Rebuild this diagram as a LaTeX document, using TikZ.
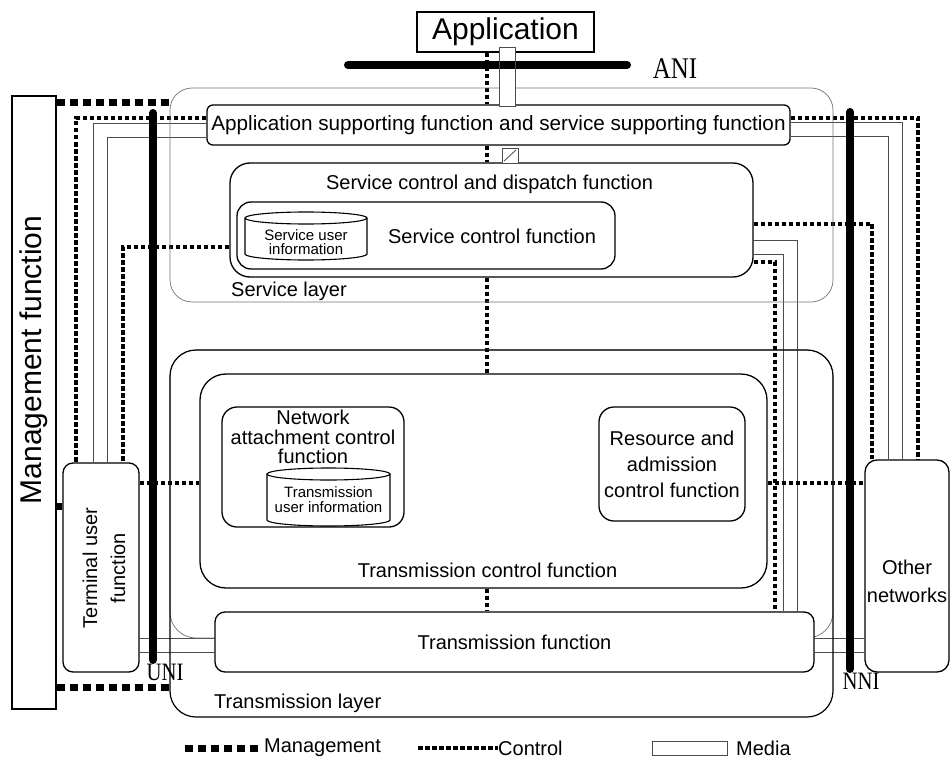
\documentclass[tikz,border=0pt]{standalone}
\usepackage{fontspec}
\setmainfont{Liberation Sans}
\newfontfamily\ifacefont{Liberation Serif}
\usetikzlibrary{calc}
\pgfdeclarelayer{bg}
\pgfsetlayers{bg,main}
\newcommand\dbcyl[5]{%
 \pgfmathsetmacro\cylrx{(#3-#1)/2}%
 \draw[line width=1.1pt,fill=white] (#1,#2+#5) -- (#1,#4-#5) arc[start angle=180,end angle=360,x radius=\cylrx pt,y radius=#5pt] -- (#3,#2+#5) arc[start angle=0,end angle=180,x radius=\cylrx pt,y radius=#5pt] -- cycle;
 \draw[line width=1.1pt] (#1,#2+#5) arc[start angle=180,end angle=360,x radius=\cylrx pt,y radius=#5pt];
}
\begin{document}
\begin{tikzpicture}[x=1pt,y=-1pt,
  fbox/.style={draw=black,line width=1.3pt,fill=white,rounded corners=#1,inner sep=0pt},
  fbox/.default=10pt,
  sqbox/.style={draw=black,line width=1.3pt,fill=white,inner sep=0pt},
  layerbox/.style={draw=black,line width=1.2pt,rounded corners=#1,inner sep=0pt},
  greybox/.style={draw=black!55,line width=0.7pt,rounded corners=#1,inner sep=0pt},
  ctl/.style={line width=3.8pt,dash pattern=on 4.5pt off 2.5pt},
  mgt/.style={line width=7pt,dash pattern=on 8pt off 5pt},
  media/.style={draw=black!70,line width=1pt,double=white,double distance=13pt},
  mediabox/.style={draw=black!70,line width=1pt},
  iface/.style={line width=8pt,line cap=round},
  t20/.style={font=\fontsize{20}{22}\selectfont},
  lbl/.style={inner sep=0pt},
]
\useasboundingbox (0,0) rectangle (950,765);

% layer boxes
\node[greybox=22pt,minimum width=663pt,minimum height=214pt] (svl) at (501.5,195) {};
\node[lbl,t20,anchor=west] (svlt) at (231,291) {Service layer};
\node[greybox=26pt,minimum width=663pt,minimum height=288pt] (gb) at (501.5,494) {};
\node[layerbox=26pt,minimum width=663pt,minimum height=367pt] (tl) at (501.5,533.5) {};
\node[lbl,t20,anchor=west] (tlt) at (214,703) {Transmission layer};

% functional boxes
\node[sqbox,minimum width=177pt,minimum height=40pt,font=\fontsize{30}{32}\selectfont] (app) at (505.5,32) {Application};
\node[fbox=6pt,minimum width=583pt,minimum height=40pt,font=\fontsize{20.7}{22}\selectfont] (aps) at (498.5,125) {Application supporting function and service supporting function};
\node[fbox=20pt,minimum width=523pt,minimum height=114pt] (scd) at (491.5,220) {};
\node[lbl,t20] (scdt) at (489.5,184) {Service control and dispatch function};
\node[fbox=14pt,minimum width=378pt,minimum height=67pt] (scf) at (426,235.5) {};
\node[lbl,t20] (scft) at (492,236) {Service control function};
\dbcyl{245}{212}{367}{260}{6}
\node[lbl,align=center,font=\fontsize{15}{13.5}\selectfont] (sui) at (306,242) {Service user\\information};

\node[fbox=26pt,minimum width=567pt,minimum height=214pt] (tcf) at (483.5,481) {};
\node[lbl,t20] (tcft) at (487.5,570) {Transmission control function};
\node[fbox=15pt,minimum width=182pt,minimum height=120pt] (nac) at (313,467) {};
\node[lbl,align=center,font=\fontsize{20}{19.5}\selectfont] (nact) at (313,437) {Network\\attachment control\\function};
\dbcyl{267}{468}{390}{526}{6}
\node[lbl,align=center,font=\fontsize{15}{15}\selectfont] (tui) at (328.5,500) {Transmission\\user information};
\node[fbox=15pt,minimum width=146pt,minimum height=114pt,align=center,font=\fontsize{20}{26}\selectfont] (rac) at (672,464) {Resource and\\admission\\control function};
\node[fbox=10pt,minimum width=599pt,minimum height=60pt,t20] (tf) at (514.5,642) {Transmission function};

\node[sqbox,minimum width=44pt,minimum height=613pt] (mgmt) at (34,402.5) {};
\node[lbl,rotate=90,font=\fontsize{30}{32}\selectfont] (mgmtt) at (34,360) {Management function};
\node[fbox=10pt,minimum width=76pt,minimum height=209pt] (tuf) at (101,567.5) {};
\node[lbl,rotate=90,align=center,font=\fontsize{20}{28}\selectfont] (tuft) at (104,568) {Terminal user\\function};
\node[fbox=12pt,minimum width=84pt,minimum height=212pt] (oth) at (907,566) {};
\node[lbl,align=center,font=\fontsize{20}{28}\selectfont] (otht) at (907,581) {Other\\networks};

% connectors
\begin{pgfonlayer}{bg}
% media
\draw[media] ([yshift=-6pt]aps.west) -| ([xshift=38pt]tuf.north west);
\draw[media] ([yshift=-5pt]aps.east) -| ([xshift=31.5pt]oth.north west);
\draw[media] ([yshift=-27pt]scd.east) -| ([xshift=276pt]tf.north);
\path ([yshift=-77.5pt]tuf.east) coordinate (m4);
\draw[media] (m4) -- (m4 -| tf.west);
\path ([yshift=-3.5pt]tf.east) coordinate (m5);
\draw[media] (m5) -- (m5 -| oth.west);
% control
\draw[ctl] ([yshift=7pt]aps.west) -| ([xshift=14pt]tuf.north west);
\draw[ctl] ([yshift=-27pt]scd.west) -| ([xshift=61pt]tuf.north west);
\path ([yshift=84.5pt]tuf.east) coordinate (c3);
\draw[ctl] (c3) -- (c3 -| tcf.west);
\path ([xshift=-18.5pt]app.south) coordinate (c4);
\draw[ctl] (c4) -- (c4 |- aps.north);
\path ([xshift=-11.5pt]aps.south) coordinate (c5);
\draw[ctl] (c5) -- (c5 |- scd.north);
\path ([xshift=-4.5pt]scd.south) coordinate (c6);
\draw[ctl] (c6) -- (c6 |- tcf.north);
\path ([xshift=3.5pt]tcf.south) coordinate (c7);
\draw[ctl] (c7) -- (c7 |- tf.north);
\path ([yshift=7pt]nac.east) coordinate (c8);
\draw[ctl] (c8) -- (c8 -| rac.west);
\draw[ctl] ([xshift=23pt]nac.south) -- ++(0,16) -| ([xshift=4pt]rac.south);
\draw[ctl] ([yshift=7pt]aps.east) -| ([xshift=54pt]oth.north west);
\draw[ctl] ([yshift=-4pt]scd.east) -| ([xshift=8pt]oth.north west);
\draw[ctl] ([yshift=-42pt]scd.east) -| ([xshift=260.5pt]tf.north);
\path ([yshift=-2pt]tcf.east) coordinate (c13);
\draw[ctl] (c13) -- (c13 -| oth.west);
% management
\path ([yshift=299.5pt]mgmt.east) coordinate (g1);
\draw[mgt] (g1) -- (g1 -| svl.west);
\path ([yshift=-284.5pt]mgmt.east) coordinate (g2);
\draw[mgt] (g2) -- (g2 -| tl.west);
\path ([yshift=-103.5pt]mgmt.east) coordinate (g3);
\draw[mgt] (g3) -- (g3 -| tuf.west);
\end{pgfonlayer}

% application media band and small media square
\draw[mediabox,fill=white] (499,48) rectangle (515,107);
\draw[mediabox,fill=white] (502,148) rectangle (518,163);
\draw[black!70,line width=0.8pt] (504,161) -- (516,150);

% interfaces
\draw[iface] (348,65) -- (627,65);
\draw[mediabox] (499,48) rectangle (515,107);
\draw[iface] (153,113) -- (153,660);
\draw[iface] (850,112) -- (850,669);
\node[lbl,font=\ifacefont\fontsize{30}{30}\selectfont] (ani) at (675,69) {\scalebox{0.83}[1]{ANI}};
\node[lbl,font=\ifacefont\fontsize{25}{25}\selectfont] (uni) at (165,672) {\scalebox{0.83}[1]{UNI}};
\node[lbl,font=\ifacefont\fontsize{25}{25}\selectfont] (nni) at (861,681) {\scalebox{0.83}[1]{NNI}};

% legend
\node[lbl,t20,anchor=west] (lgm) at (264,748) {Management};
\draw[mgt] ([xshift=-79pt]lgm.west) -- ([xshift=-2pt]lgm.west);
\node[lbl,t20,anchor=west] (lgc) at (498,748) {Control};
\draw[ctl] ([xshift=-80pt]lgc.west) -- (lgc.west);
\node[lbl,t20,anchor=west] (lgd) at (736,748) {Media};
\draw[mediabox] ([xshift=-84pt,yshift=7pt]lgd.west) rectangle ([xshift=-9pt,yshift=-7pt]lgd.west);
\end{tikzpicture}
\end{document}
